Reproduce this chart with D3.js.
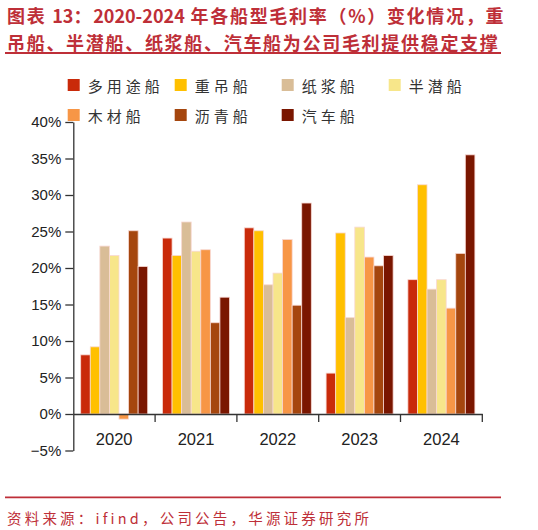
<!DOCTYPE html>
<html lang="zh">
<head>
<meta charset="utf-8">
<script src="https://d3js.org/d3.v7.min.js"></script>
<style>
  body { margin: 0; background: #fff; }
  svg { display: block; }
</style>
</head>
<body>
<div id="chart"></div>
<script>
// data (gross margin, %)
const years = ["2020", "2021", "2022", "2023", "2024"];
const shipTypes = ["多用途船", "重吊船", "纸浆船", "半潜船", "木材船", "沥青船", "汽车船"];
const colors = ["#C92A0A", "#FFC000", "#D9BD97", "#F7E68A", "#F79646", "#A5460E", "#7A1600"];
const multiPurpose = [8.1, 24.1, 25.5, 5.6, 18.4];
const heavyLift = [9.2, 21.7, 25.1, 24.8, 31.4];
const pulp = [23.0, 26.3, 17.7, 13.2, 17.1];
const semiSub = [21.7, 22.3, 19.3, 25.6, 18.4];
const timber = [-0.7, 22.5, 23.9, 21.5, 14.5];
const asphalt = [25.1, 12.5, 14.9, 20.3, 22.0];
const carCarrier = [20.2, 16.0, 28.9, 21.7, 35.5];
const yTicks = [-5, 0, 5, 10, 15, 20, 25, 30, 35, 40];

const series = [multiPurpose, heavyLift, pulp, semiSub, timber, asphalt, carCarrier];
const rows = [];
years.forEach((yr, i) => {
  shipTypes.forEach((s, j) => rows.push({year: yr, type: s, value: series[j][i], color: colors[j]}));
});

const W = 538, H = 530;
const red = "#BE2F38";
const cjk = "'Noto Sans CJK SC', 'Noto Sans', sans-serif";
const latin = "'Liberation Sans', Arial, sans-serif";

const svg = d3.select("#chart").append("svg")
  .attr("width", W).attr("height", H);

// title: CJK runs get wider spacing than the digit runs
const titleLines = [
  ["图表 ", "13", "：", "2020-2024", " 年各船型毛利率（%）变化情况，重"],
  ["吊船、半潜船、纸浆船、汽车船为公司毛利提供稳定支撑"]
];
svg.selectAll(".title").data(titleLines).join("text")
  .attr("class", "title")
  .attr("x", 7)
  .attr("y", (d, i) => 15 + i * 27)
  .attr("dominant-baseline", "central")
  .attr("fill", red)
  .style("font-family", cjk)
  .style("font-weight", "bold")
  .style("font-size", "18px")
  .selectAll("tspan").data(d => d).join("tspan")
    .style("letter-spacing", d => /^[0-9-]+$/.test(d) ? "0px" : "1.7px")
    .text(d => d);

svg.append("line")
  .attr("x1", 5).attr("x2", 501).attr("y1", 53).attr("y2", 53)
  .attr("stroke", red).attr("stroke-width", 2);

// scales
const y = d3.scaleLinear().domain([-5, 40]).range([450.5, 122]);
const x = d3.scaleBand().domain(years).range([73.3, 482.3]).padding(0);
const xs = d3.scaleBand().domain(shipTypes)
  .range([7.4, x.bandwidth() - 7.4]).padding(0);

// y axis
const yAxis = svg.append("g")
  .attr("transform", "translate(73.3,0)")
  .call(d3.axisLeft(y).tickValues(yTicks).tickSize(8).tickSizeOuter(0)
    .tickPadding(4)
    .tickFormat(d => (d < 0 ? "\u2212" + Math.abs(d) : d) + "%"));
yAxis.selectAll("path, line").attr("stroke", "#333").attr("stroke-width", 1.3);
yAxis.selectAll("text").attr("fill", "#222")
  .style("font-family", latin).style("font-size", "15px");

// bars
svg.append("g").selectAll("rect").data(rows).join("rect")
  .attr("x", d => x(d.year) + xs(d.type))
  .attr("y", d => y(Math.max(0, d.value)))
  .attr("width", xs.bandwidth())
  .attr("height", d => Math.abs(y(d.value) - y(0)))
  .attr("fill", d => d.color)
  .attr("stroke", "#F8D8D2")
  .attr("stroke-width", 0.8);

// x axis on the zero line, ticks at the band edges
const xAxis = svg.append("g")
  .attr("transform", `translate(0,${y(0)})`)
  .call(d3.axisBottom(x).tickSize(0).tickSizeOuter(0).tickPadding(19));
xAxis.select(".domain").attr("stroke", "#333").attr("stroke-width", 1.3);
xAxis.selectAll("text").attr("fill", "#222")
  .style("font-family", latin).style("font-size", "16.5px");
xAxis.selectAll(".edge").data(years.slice(1).concat(["end"])).join("line")
  .attr("class", "edge")
  .attr("x1", d => d === "end" ? x.range()[1] : x(d))
  .attr("x2", d => d === "end" ? x.range()[1] : x(d))
  .attr("y1", 0).attr("y2", 8)
  .attr("stroke", "#333").attr("stroke-width", 1.3);

// legend
const legend = svg.append("g").selectAll("g").data(shipTypes).join("g")
  .attr("transform", (d, i) => `translate(${67.7 + (i % 4) * 107},${85 + Math.floor(i / 4) * 30})`);
legend.append("rect")
  .attr("x", 0).attr("y", -6).attr("width", 12).attr("height", 12)
  .attr("fill", (d, i) => colors[i]);
legend.append("text")
  .attr("x", 20).attr("y", 0)
  .attr("dominant-baseline", "central")
  .attr("fill", "#333")
  .style("font-family", cjk)
  .style("font-size", "15px")
  .style("letter-spacing", "4px")
  .text(d => d);

// source
svg.append("line")
  .attr("x1", 5).attr("x2", 501).attr("y1", 497.3).attr("y2", 497.3)
  .attr("stroke", red).attr("stroke-width", 1.8);
svg.append("text")
  .attr("x", 7).attr("y", 517)
  .attr("dominant-baseline", "central")
  .attr("fill", red)
  .style("font-family", cjk)
  .style("font-size", "14.5px")
  .style("letter-spacing", "3.2px")
  .text("资料来源：ifind，公司公告，华源证券研究所");
</script>
</body>
</html>
